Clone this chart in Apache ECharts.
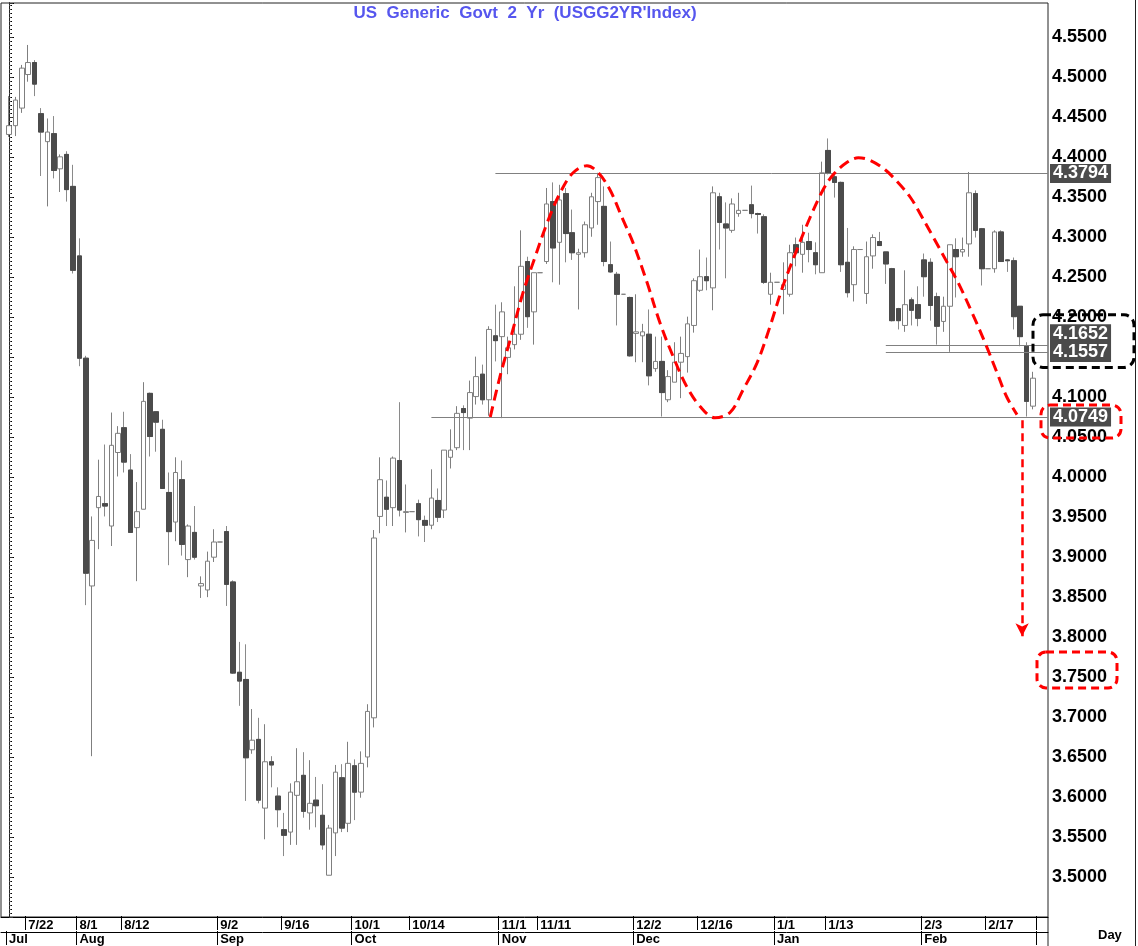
<!DOCTYPE html>
<html><head><meta charset="utf-8">
<script src="https://cdn.jsdelivr.net/npm/echarts@6/dist/echarts.min.js"></script>
<style>html,body{margin:0;padding:0;background:#fff}#c{width:1138px;height:946px}</style>
</head><body><div id="c"></div>
<script>
// ---------------- DATA ----------------
const dates = [
'7/17','7/18','7/19','7/22','7/23','7/24','7/25','7/26','7/29','7/30','7/31',
'8/1','8/2','8/5','8/6','8/7','8/8','8/9','8/12','8/13','8/14','8/15','8/16','8/19','8/20','8/21','8/22','8/23','8/26','8/27','8/28','8/29','8/30',
'9/2','9/3','9/4','9/5','9/6','9/9','9/10','9/11','9/12','9/13','9/16','9/17','9/18','9/19','9/20','9/23','9/24','9/25','9/26','9/27','9/30',
'10/1','10/2','10/3','10/4','10/7','10/8','10/9','10/10','10/11','10/14','10/15','10/16','10/17','10/18','10/21','10/22','10/23','10/24','10/25','10/28','10/29','10/30','10/31',
'11/1','11/4','11/5','11/6','11/7','11/8','11/11','11/12','11/13','11/14','11/15','11/18','11/19','11/20','11/21','11/22','11/25','11/26','11/27','11/28','11/29',
'12/2','12/3','12/4','12/5','12/6','12/9','12/10','12/11','12/12','12/13','12/16','12/17','12/18','12/19','12/20','12/23','12/24','12/25','12/26','12/27','12/30','12/31',
'1/1','1/2','1/3','1/6','1/7','1/8','1/9','1/10','1/13','1/14','1/15','1/16','1/17','1/20','1/21','1/22','1/23','1/24','1/27','1/28','1/29','1/30','1/31',
'2/3','2/4','2/5','2/6','2/7','2/10','2/11','2/12','2/13','2/14','2/17','2/18','2/19','2/20','2/21','2/24','2/25','2/26'
];
const openV = [
4.428,4.439,4.461,4.503,4.518,4.454,4.419,4.429,4.385,4.403,4.363,
4.276,4.148,3.863,3.961,3.966,3.938,4.030,4.061,4.008,3.936,3.959,4.104,4.081,4.059,3.980,3.943,3.996,3.896,3.930,3.863,3.858,3.899,
3.918,3.931,3.868,3.755,3.746,3.658,3.671,3.585,3.643,3.600,3.558,3.555,3.601,3.626,3.579,3.595,3.576,3.501,3.554,3.623,3.566,
3.638,3.605,3.649,3.698,3.950,3.974,3.961,4.020,3.955,3.956,3.966,3.945,3.939,3.970,3.958,4.024,4.036,4.085,4.073,4.100,4.128,4.096,4.176,
4.175,4.149,4.165,4.178,4.269,4.206,4.255,4.269,4.344,4.293,4.354,4.305,4.278,4.280,4.311,4.344,4.338,4.265,4.253,4.228,4.224,
4.179,4.176,4.178,4.135,4.144,4.096,4.118,4.143,4.150,4.189,4.233,4.250,4.236,4.350,4.316,4.308,4.329,4.333,4.340,4.329,4.325,4.228,
4.243,4.234,4.228,4.290,4.278,4.294,4.280,4.255,4.408,4.375,4.368,4.268,4.240,4.284,4.229,4.276,4.294,4.281,4.260,4.210,4.189,4.221,4.215,
4.271,4.268,4.225,4.194,4.213,4.284,4.281,4.291,4.354,4.310,4.260,4.260,4.306,4.271,4.270,4.213,4.163,4.088
];
const closeV = [
4.439,4.471,4.511,4.518,4.491,4.431,4.431,4.383,4.400,4.359,4.258,
4.148,3.879,3.920,3.975,3.963,4.039,4.054,4.018,3.930,3.956,4.094,4.050,4.068,3.985,3.931,4.005,3.915,3.938,3.899,3.866,3.894,3.918,
3.918,3.865,3.754,3.744,3.648,3.670,3.595,3.643,3.639,3.583,3.551,3.605,3.618,3.581,3.591,3.588,3.539,3.560,3.630,3.560,3.641,
3.605,3.641,3.706,3.923,3.996,3.959,4.023,3.958,3.956,3.956,3.946,3.939,3.973,3.949,4.033,4.033,4.079,4.080,4.105,4.125,4.096,4.184,4.170,
4.206,4.161,4.178,4.263,4.200,4.255,4.255,4.341,4.286,4.346,4.304,4.280,4.280,4.315,4.350,4.374,4.269,4.256,4.228,4.228,4.151,
4.181,4.181,4.126,4.144,4.105,4.125,4.143,4.154,4.191,4.245,4.250,4.245,4.355,4.318,4.311,4.341,4.333,4.333,4.329,4.328,4.243,4.243,
4.243,4.240,4.280,4.280,4.293,4.284,4.265,4.380,4.380,4.368,4.265,4.230,4.284,4.284,4.275,4.299,4.289,4.266,4.195,4.195,4.215,4.208,4.198,
4.250,4.214,4.188,4.213,4.290,4.275,4.284,4.355,4.308,4.260,4.260,4.306,4.269,4.270,4.200,4.175,4.094,4.123
];
const lowV = [
4.425,4.426,4.455,4.494,4.476,4.376,4.338,4.373,4.356,4.344,4.254,
4.138,3.839,3.650,3.909,3.950,3.913,4.000,4.005,3.930,3.869,3.959,4.025,4.031,3.985,3.889,3.919,3.901,3.874,3.896,3.848,3.849,3.893,
3.918,3.838,3.753,3.713,3.594,3.653,3.591,3.546,3.611,3.561,3.525,3.539,3.539,3.573,3.558,3.561,3.533,3.501,3.525,3.555,3.555,
3.570,3.598,3.636,3.686,3.929,3.938,3.938,3.950,3.930,3.956,3.925,3.918,3.934,3.943,3.948,4.010,4.033,4.033,4.033,4.090,4.090,4.076,4.144,
4.073,4.128,4.159,4.171,4.186,4.165,4.255,4.266,4.243,4.240,4.268,4.271,4.209,4.274,4.300,4.315,4.263,4.255,4.189,4.228,4.150,
4.143,4.143,4.114,4.131,4.075,4.093,4.118,4.098,4.130,4.180,4.231,4.233,4.208,4.284,4.248,4.305,4.325,4.333,4.323,4.304,4.241,4.215,
4.243,4.203,4.225,4.263,4.255,4.268,4.253,4.255,4.378,4.349,4.256,4.224,4.219,4.284,4.216,4.260,4.289,4.241,4.194,4.184,4.181,4.189,4.188,
4.225,4.195,4.165,4.181,4.156,4.224,4.275,4.275,4.299,4.239,4.260,4.255,4.269,4.256,4.184,4.163,4.075,4.084
];
const highV = [
4.476,4.475,4.515,4.540,4.521,4.461,4.448,4.451,4.403,4.407,4.390,
4.298,4.151,3.950,4.021,4.040,4.080,4.063,4.081,4.028,3.993,4.118,4.105,4.081,4.071,4.005,4.024,4.020,3.940,3.963,3.875,3.906,3.934,
3.918,3.938,3.870,3.793,3.790,3.709,3.698,3.690,3.650,3.611,3.579,3.616,3.660,3.655,3.645,3.624,3.615,3.564,3.639,3.640,3.668,
3.646,3.656,3.715,3.933,4.024,3.995,4.025,4.093,3.990,3.956,3.971,3.951,4.009,3.985,4.033,4.059,4.088,4.089,4.120,4.150,4.140,4.188,4.215,
4.218,4.175,4.238,4.308,4.275,4.255,4.255,4.361,4.368,4.365,4.361,4.334,4.285,4.319,4.355,4.380,4.363,4.294,4.256,4.228,4.225,
4.228,4.191,4.209,4.175,4.175,4.133,4.168,4.175,4.200,4.248,4.284,4.274,4.363,4.355,4.343,4.348,4.355,4.333,4.364,4.330,4.328,4.255,
4.243,4.268,4.290,4.299,4.315,4.305,4.293,4.394,4.423,4.378,4.369,4.311,4.288,4.284,4.294,4.303,4.306,4.281,4.261,4.211,4.258,4.224,4.238,
4.279,4.273,4.230,4.225,4.290,4.298,4.299,4.381,4.358,4.311,4.260,4.308,4.308,4.272,4.274,4.213,4.168,4.131
];
// axis tick labels
const weekLabels = ['7/22','8/1','8/12','9/2','9/16','10/1','10/14','11/1','11/11','12/2','12/16','1/1','1/13','2/3','2/17'];
const monthDates = ['7/17','8/1','9/2','10/1','11/1','12/2','1/1','2/3'];
const monthNames = ['Jul','Aug','Sep','Oct','Nov','Dec','Jan','Feb'];
const yTickMin = 3.50, yTickMax = 4.55;
const titleText = "US  Generic  Govt  2  Yr  (USGG2YR'Index)";
const xAxisName = 'Day';
// annotation levels (value, start position as bar index)
const levelValues = [4.3794, 4.0749, 4.1652, 4.1557];
const levelStart = [76, 66, 137, 137];
const lastPrice = 4.1228;
// hand drawn double-top curve (bar index, value)
const curveIdx = [75.2,76.7,78.6,80.3,82.2,84.1,86.1,88.1,90.3,92.0,93.9,95.8,97.5,99.7,101.7,103.8,105.9,108.0,110.3,112.7,114.7,116.9,118.9,120.9,123.1,125.2,127.2,128.8,130.9,132.7,134.5,136.9,138.8,140.8,142.3,144.4,146.6,148.3,150.5,152.5,154.4,155.9,157.5];
const curveVal = [4.075,4.125,4.180,4.230,4.275,4.318,4.355,4.380,4.389,4.381,4.359,4.324,4.293,4.243,4.193,4.150,4.113,4.088,4.074,4.081,4.109,4.143,4.188,4.238,4.284,4.325,4.359,4.378,4.393,4.399,4.396,4.384,4.369,4.350,4.330,4.300,4.268,4.243,4.205,4.168,4.130,4.100,4.078];
// projected target arrow
const arrowIdx = 158.3, arrowFrom = 4.071, arrowTo = 3.801;
const targetValue = 3.75;

// ---------------- CHART ----------------
const FONT = '"Liberation Sans", Arial, Helvetica, sans-serif';
const Y_MIN = 3.45, Y_MAX = 4.5925;
const X_MIN = -1.25, X_MAX = 162.34375;
const chart = echarts.init(document.getElementById('c'));

const candleData = dates.map((d, i) => [openV[i], closeV[i], lowV[i], highV[i]]);
const bodyData = dates.map((d, i) => closeV[i] < openV[i] ? [openV[i], closeV[i], closeV[i], openV[i]] : '-');
const curveData = curveIdx.map((x, i) => [x, curveVal[i]]);

const levelLabel = (offY) => ({
  show: true, position: 'end', distance: 2, formatter: p => p.value.toFixed(4),
  color: '#ffffff', backgroundColor: '#4b4b4b', fontWeight: 'bold', fontSize: 18,
  fontFamily: FONT, padding: [1, 3, 0, 3], offset: [0, offY]
});
const levelOffsets = [0, 0, -11, 0];
const markData = levelValues.map((v, k) => [
  { coord: [levelStart[k], v], value: v, lineStyle: { color: '#808080', width: 1, type: 'solid' }, label: levelLabel(levelOffsets[k]) },
  { coord: [X_MAX, v] }
]);
markData.push([
  { coord: [X_MAX - 0.2, lastPrice], value: lastPrice, lineStyle: { opacity: 0, width: 0 }, label: levelLabel(0) },
  { coord: [X_MAX, lastPrice] }
]);
markData.push([
  { coord: [arrowIdx, arrowFrom], symbol: 'none', lineStyle: { color: '#ff0000', width: 2.5, type: [8, 5] }, label: { show: false } },
  { coord: [arrowIdx, arrowTo], symbol: 'arrow', symbolSize: [10, 13] }
]);

const labelFont = { fontSize: 13, fontWeight: 'bold', color: '#000', fontFamily: FONT };

chart.setOption({
  animation: false,
  backgroundColor: '#ffffff',
  grid: [
    { left: 5.8, right: 1138 - 1036.2, top: 3, bottom: 29 },
    { left: 1, right: 90, top: 3, bottom: 29, show: true, borderColor: '#222', borderWidth: 1, backgroundColor: 'transparent' }
  ],
  xAxis: [
    { type: 'category', gridIndex: 0, data: dates, boundaryGap: true,
      axisLine: { show: false },
      axisTick: { show: true, interval: (i, v) => weekLabels.includes(v), length: 14, lineStyle: { color: '#000' } },
      axisLabel: Object.assign({ show: true, interval: (i, v) => weekLabels.includes(v), align: 'left', margin: 3 }, labelFont),
      splitLine: { show: false } },
    { type: 'value', gridIndex: 1, min: X_MIN, max: X_MAX,
      axisLine: { show: true, lineStyle: { color: '#000' } }, axisTick: { show: false }, axisLabel: { show: false }, splitLine: { show: false } },
    { type: 'category', gridIndex: 0, data: dates, boundaryGap: true, position: 'bottom', offset: 15,
      axisLine: { show: false },
      axisTick: { show: true, interval: (i, v) => monthDates.includes(v), length: 14, lineStyle: { color: '#000' } },
      axisLabel: Object.assign({ show: true, interval: (i, v) => monthDates.includes(v), formatter: v => monthNames[monthDates.indexOf(v)] || '', align: 'left', margin: 2 }, labelFont),
      splitLine: { show: false } },
    { type: 'value', gridIndex: 1, min: X_MIN, max: X_MAX, position: 'bottom', offset: 15,
      axisLine: { show: true, lineStyle: { color: '#000' } }, axisTick: { show: false }, axisLabel: { show: false }, splitLine: { show: false } }
  ],
  yAxis: [
    { type: 'value', gridIndex: 0, min: Y_MIN, max: Y_MAX, show: false, splitLine: { show: false } },
    { type: 'value', gridIndex: 1, position: 'right', min: Y_MIN, max: Y_MAX, interval: 0.05,
      axisLine: { show: true, lineStyle: { color: '#000', width: 1 } },
      axisTick: { show: true, length: 5, lineStyle: { color: '#000' } },
      minorTick: { show: true, splitNumber: 10, length: 3, lineStyle: { color: '#000' } },
      axisLabel: { formatter: v => (v > yTickMin - 0.0001 && v < yTickMax + 0.0001) ? v.toFixed(4) : '',
        fontSize: 18, fontWeight: 'bold', color: '#000', margin: 4, fontFamily: FONT },
      splitLine: { show: false } },
    { type: 'value', gridIndex: 1, position: 'left', min: Y_MIN, max: Y_MAX, interval: 0.05,
      axisLine: { show: true, lineStyle: { color: '#222' } },
      axisTick: { show: true, inside: true, length: 4, lineStyle: { color: '#333' } },
      minorTick: { show: true, splitNumber: 10, length: 2, lineStyle: { color: '#555' } },
      axisLabel: { show: false }, splitLine: { show: false } }
  ],
  series: [
    { type: 'candlestick', name: 'wicks', xAxisIndex: 0, yAxisIndex: 0, data: candleData, barWidth: 5, silent: true,
      itemStyle: { color: '#ffffff', color0: '#4b4b4b', borderColor: '#7f7f7f', borderColor0: '#8a8a8a', borderColorDoji: '#7f7f7f', borderWidth: 1 } },
    { type: 'candlestick', name: 'bodies', xAxisIndex: 0, yAxisIndex: 0, data: bodyData, barWidth: 5, silent: true,
      itemStyle: { color: '#ffffff', color0: '#4b4b4b', borderColor: '#7f7f7f', borderColor0: '#4b4b4b', borderWidth: 1 } },
    { type: 'line', name: 'pattern', xAxisIndex: 1, yAxisIndex: 1, data: curveData, smooth: 0.35, showSymbol: false, symbol: 'none', silent: true,
      lineStyle: { color: '#ff0000', width: 3, type: [11, 6] }, z: 5,
      markLine: { silent: true, symbol: ['none', 'none'], animation: false, data: markData } }
  ]
});

// annotation boxes tied to the value scale
const yPix = v => chart.convertToPixel({ yAxisIndex: 1 }, v);
const yA = yPix(levelValues[2]), yB = yPix(levelValues[3]), yC = yPix(levelValues[1]), yT = yPix(targetValue);
chart.setOption({
  graphic: [
    { type: 'text', x: 525, y: 5, silent: true, z: 30, style: { text: titleText, align: 'center', verticalAlign: 'top', fill: '#5656ee', font: 'bold 17px ' + FONT } },
    { type: 'text', x: 1098, y: 929, silent: true, z: 30, style: { text: xAxisName, align: 'left', verticalAlign: 'top', fill: '#000', font: 'bold 13px ' + FONT } },
    { type: 'rect', silent: true, z: 20, shape: { x: 1033, y: yA - 30, width: 101, height: (yB - yA) + 45, r: 10 }, style: { fill: 'none', stroke: '#000', lineWidth: 3, lineDash: [8, 5] } },
    { type: 'rect', silent: true, z: 20, shape: { x: 1041, y: yC - 12, width: 80, height: 33, r: 9 }, style: { fill: 'none', stroke: '#ff0000', lineWidth: 3, lineDash: [8, 5] } },
    { type: 'rect', silent: true, z: 20, shape: { x: 1037, y: yT - 25, width: 80, height: 36, r: 9 }, style: { fill: 'none', stroke: '#ff0000', lineWidth: 3, lineDash: [8, 5] } },
    { type: 'line', silent: true, shape: { x1: 1135.5, y1: 0, x2: 1135.5, y2: 946 }, style: { stroke: '#222', lineWidth: 1 } },
    { type: 'line', silent: true, shape: { x1: 1048, y1: 917, x2: 1048, y2: 946 }, style: { stroke: '#222', lineWidth: 1 } }
  ]
});
</script></body></html>
